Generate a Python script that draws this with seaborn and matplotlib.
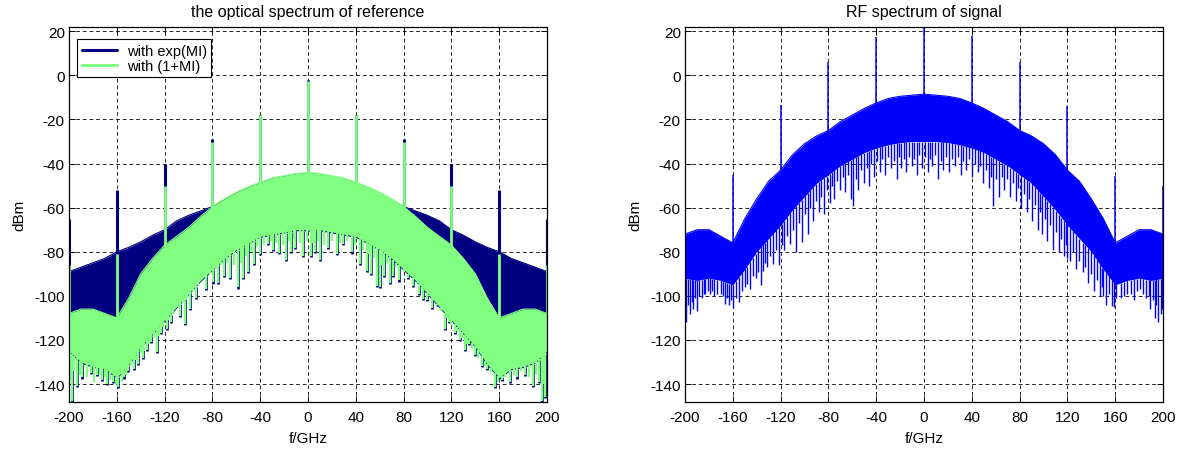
import numpy as np
import pandas as pd
import matplotlib
matplotlib.use("Agg")
import matplotlib.pyplot as plt
from matplotlib.lines import Line2D
import seaborn as sns

# ---------------- data ----------------
freq = [-200, -190, -180, -170, -160, -150, -140, -130, -120, -110, -100,
        -90, -80, -70, -60, -50, -40, -30, -20, -10, 0,
        10, 20, 30, 40, 50, 60, 70, 80, 90, 100,
        110, 120, 130, 140, 150, 160, 170, 180, 190, 200]

# optical spectrum, exp(MI) (navy): upper envelope
exp_upper = [-89, -87, -85, -83, -80, -78, -75.5, -72.5, -70, -66, -63.5,
             -61.5, -59.5, -56.5, -53.5, -51, -49, -47, -46, -45, -44.5,
             -45, -46, -47, -49, -51, -53.5, -56.5, -59.5, -61.5, -63.5,
             -66, -70, -72.5, -75.5, -78, -80, -83, -85, -87, -89]
# optical spectrum, (1+MI) (green): upper envelope and solid floor
lin_upper = [-108, -106, -106, -108, -110, -101, -90, -83, -77, -73, -69,
             -64, -59.5, -56, -53, -50.5, -48.5, -46.5, -45.5, -44.5, -44,
             -44.5, -45.5, -46.5, -48.5, -50.5, -53, -56, -59.5, -64, -69,
             -73, -77, -83, -90, -101, -110, -108, -106, -106, -108]
lin_floor = [-125, -130, -132, -133, -137, -131, -123, -117, -111, -105, -99,
             -93, -88, -83, -79, -76, -73, -72, -71, -70, -70,
             -70, -71, -72, -73, -76, -79, -83, -88, -93, -99,
             -105, -111, -117, -123, -131, -137, -133, -132, -130, -125]

# optical spectrum: deep noise dips (frequency, level)
opt_dip_f = [-197.7, -193.6, -189, -182, -176.8, -172, -168.5, -163, -158.7, -154,
             -150.4, -146, -142, -138, -135, -131, -126.6, -123, -118.2, -115,
             -111.3, -107, -103, -98.7, -94, -89, -85, -79.2, -75, -70,
             -65.3, -58.3, -54, -50, -45.2, -40.2, -33.2, -29, -24, -18.4,
             -14, -10.9, -4, 2.3, 6, 10, 17, 24, 29.5, 36.6,
             43.5, 49.1, 53, 57.5, 60.2, 64, 68.6, 71.4, 76, 84,
             88, 93, 96.5, 99.3, 103.5, 108, 114.6, 118, 123, 127,
             131.4, 135, 139.7, 145.3, 150, 156.5, 162, 169, 175, 181.6,
             188.5, 193, 195.5, 198.5]
opt_dip_v = [-147.6, -140.8, -137, -135, -136, -138, -140, -139, -141.5, -137,
             -134, -133, -131, -128, -124.6, -121, -125.6, -117, -115, -112,
             -106, -109, -112.8, -106, -101, -92.4, -97, -93.9, -94, -91,
             -91.7, -96.2, -92, -89.1, -85.6, -81.1, -76.6, -79, -80.6, -83.7,
             -80, -78.1, -82.1, -82.1, -80, -83.7, -78.1, -81.1, -76.6, -80.3,
             -85.6, -88.6, -90, -95.4, -95.8, -91, -94, -90.9, -93, -92,
             -95.6, -99, -101.5, -102, -105.6, -104, -115, -112, -117, -120,
             -124.6, -122, -127, -131.7, -133, -141.5, -138, -139, -137, -136,
             -141, -139, -147.6, -146]
# optical spectrum: shallower dips in between
opt_sdip_f = [-199, -195.5, -191, -185, -179, -174, -170, -166, -161, -156,
              -152, -148, -144, -140, -137, -133, -129, -125, -121, -117,
              -113, -109, -105, -101, -96, -92, -87, -82, -77, -73,
              -68, -62, -56, -52, -48, -43, -37, -31, -27, -21,
              -16, -12, -7, -1, 4, 8, 13, 20, 27, 33,
              39, 46, 51, 55, 62, 66, 74, 80, 86, 91,
              95, 101, 106, 111, 116, 120, 125, 129, 133, 137,
              142, 148, 153, 159, 165, 172, 178, 185, 191, 197]
opt_sdip_v = [-138, -134, -136, -137, -139, -136, -137, -138, -140, -139,
              -136, -132, -129, -126, -125, -122, -119, -118, -114, -111,
              -108, -105, -103, -101, -98, -95, -91, -90, -88, -86,
              -85, -86, -85, -82, -80, -78, -77, -75, -76, -77,
              -75, -74, -76, -75, -76, -75, -77, -75, -76, -75,
              -77, -79, -81, -83, -86, -85, -87, -89, -90, -94,
              -97, -100, -103, -107, -110, -113, -116, -119, -122, -124,
              -128, -132, -135, -139, -137, -136, -134, -137, -136, -140]

# optical spectrum: carrier / sideband lines
line_f = [-200, -160, -120, -80, -40, 0, 40, 80, 120, 160, 200]
exp_peaks = [-65, -52, -40, -29, -18, -2, -18, -29, -40, -52, -65]
lin_peaks = [-86, -81, -50, -30, -18, -2.5, -18, -30, -50, -81, -86]

# RF spectrum of signal (blue)
rf_upper = [-72, -70, -70, -73, -76, -65, -56, -48, -43, -36, -31,
            -27.5, -25, -21, -18, -15, -12.5, -10.5, -9.5, -9, -8.5,
            -9, -9.5, -10.5, -12.5, -15, -18, -21, -25, -27.5, -31,
            -36, -43, -48, -56, -65, -76, -73, -70, -70, -72]
rf_floor = [-92, -93, -92, -93, -95, -88, -80, -74, -68, -61, -55,
            -49, -45, -41, -38, -35, -33, -31.5, -30.5, -30, -30,
            -30, -30.5, -31.5, -33, -35, -38, -41, -45, -49, -55,
            -61, -68, -74, -80, -88, -95, -93, -92, -93, -92]
rf_dip_f = [-199, -196, -193, -190, -186, -183, -179, -176, -170, -166.5,
            -163, -159.8, -155, -148.4, -146, -141, -136, -134.5, -131, -126,
            -121, -117, -112, -107, -102.3, -97, -93, -88, -84, -79,
            -75, -70, -66, -61, -59, -55, -50, -46, -42, -37,
            -33, -28, -23, -19, -15, -10, -6, -2, 3, 7,
            12, 16, 21, 26, 31, 35, 40, 45, 49, 54,
            58, 63, 67, 72, 77, 81, 86, 90, 95, 99,
            103, 108, 113, 117, 120, 122, 127, 133, 137, 142,
            147, 150, 152, 157, 159, 165, 170, 176, 181, 186,
            189, 193, 196, 198]
rf_dip_v = [-112, -108, -106, -106.8, -101, -99, -99.2, -100, -99, -103.7,
            -104, -105.3, -103, -94.7, -97, -92, -95, -88.7, -87, -85.6,
            -86, -79, -76.6, -80, -75.7, -72, -66, -62, -63, -58,
            -56, -52, -53, -56, -59.2, -52, -49, -50, -46, -44,
            -45, -42, -47, -42, -44, -41, -45, -42, -44, -41,
            -47, -43, -44, -41, -45, -43, -46, -44, -49, -51,
            -59.2, -55, -52, -55, -57, -60, -62, -66, -70, -72,
            -75, -79, -80, -82, -83, -84, -88, -89, -94, -98,
            -100, -100, -104, -104.5, -105, -101, -99, -102, -97, -101,
            -106, -110, -112, -108]
rf_sdip_f = [-197.5, -194.5, -191.5, -188, -184.5, -181, -177.5, -173, -168, -165,
             -161.5, -157.5, -152, -150, -143.5, -138.5, -133, -128.5, -123.5, -119,
             -114.5, -109.5, -104.5, -99.5, -95, -90.5, -86, -81.5, -77, -72.5,
             -68, -63.5, -57, -52.5, -48, -44, -39.5, -35, -30.5, -25.5,
             -21, -17, -12.5, -8, -4, 0.5, 5, 9.5, 14, 18.5,
             23.5, 28.5, 33, 37.5, 42.5, 47, 51.5, 56, 60.5, 65,
             69.5, 74.5, 79, 83.5, 88, 92.5, 97, 101, 105.5, 110.5,
             115, 119, 124.5, 130, 135, 139.5, 144.5, 149, 154.5, 161,
             167.5, 173, 178.5, 183.5, 188, 191.5, 194.5, 199]
rf_sdip_v = [-104, -103, -101, -100, -99, -98, -98, -99, -100, -101,
             -102, -101, -98, -96, -91, -89, -85, -82, -79, -77,
             -73, -70, -67, -63, -60, -57, -55, -52, -50, -48,
             -46, -45, -47, -43, -42, -40, -39, -38, -37, -39,
             -37, -38, -37, -38, -36, -37, -38, -36, -39, -37,
             -38, -37, -39, -38, -40, -41, -43, -46, -47, -46,
             -47, -49, -51, -54, -56, -59, -62, -65, -68, -71,
             -74, -77, -80, -84, -87, -90, -93, -96, -99, -101,
             -100, -99, -98, -99, -100, -102, -104, -106]
rf_peaks = [-50, -45, -13.5, 6, 17.6, 22, 18, 6, -14, -45.5, -50]

xticks = [-200, -160, -120, -80, -40, 0, 40, 80, 120, 160, 200]
yticks = [20, 0, -20, -40, -60, -80, -100, -120, -140]

# ---------------- style ----------------
sns.set_theme(style="white")
plt.rcParams["font.family"] = ["Liberation Sans", "DejaVu Sans"]
plt.rcParams["axes.unicode_minus"] = False
plt.rcParams["text.color"] = "black"
plt.rcParams["axes.labelcolor"] = "black"
plt.rcParams["axes.titlecolor"] = "black"
plt.rcParams["xtick.color"] = "black"
plt.rcParams["ytick.color"] = "black"
plt.rcParams["xtick.labelcolor"] = "black"
plt.rcParams["ytick.labelcolor"] = "black"

NAVY = "#000080"
GREEN = "#80FF80"
BLUE = "#0000FF"
FS = 11

fig = plt.figure(figsize=(11.84, 4.52), dpi=100)
ax1 = fig.add_axes([69 / 1184, 49.3 / 452, 478 / 1184, 374.4 / 452])
ax2 = fig.add_axes([685 / 1184, 49.3 / 452, 478 / 1184, 374.4 / 452])

fr = np.array(freq, dtype=float)


def floor_at(f, arr):
    return np.interp(f, fr, np.array(arr, dtype=float))


# ---- left panel: optical spectrum ----
exp_floor = [v - 0.5 for v in lin_floor]
df_exp = pd.DataFrame({"f": freq, "dBm": exp_upper})
df_lin = pd.DataFrame({"f": freq, "dBm": lin_upper})

ax1.fill_between(freq, exp_floor, exp_upper, color=NAVY, lw=0, zorder=2)
sns.lineplot(data=df_exp, x="f", y="dBm", ax=ax1, color=NAVY, lw=0.8,
             zorder=2, legend=False)
ax1.vlines(opt_dip_f, floor_at(opt_dip_f, exp_floor),
           [v - 0.5 for v in opt_dip_v], color=NAVY, lw=1.9, zorder=2)
ax1.vlines(line_f, floor_at(line_f, exp_floor), exp_peaks,
           color=NAVY, lw=2.2, zorder=2)

ax1.fill_between(freq, lin_floor, lin_upper, color=GREEN, lw=0, zorder=3)
sns.lineplot(data=df_lin, x="f", y="dBm", ax=ax1, color=GREEN, lw=0.8,
             zorder=3, legend=False)
ax1.vlines(opt_dip_f, floor_at(opt_dip_f, lin_floor), opt_dip_v,
           color=GREEN, lw=1.6, zorder=3)
ax1.vlines(opt_sdip_f, floor_at(opt_sdip_f, lin_floor), opt_sdip_v,
           color=GREEN, lw=1.6, zorder=3)
ax1.vlines(line_f, floor_at(line_f, lin_floor), lin_peaks,
           color=GREEN, lw=2.0, zorder=3)

handles = [Line2D([], [], color=NAVY, lw=2.2), Line2D([], [], color=GREEN, lw=2.2)]
leg = ax1.legend(handles, ["with exp(MI)", "with (1+MI)"], loc="upper left",
                 bbox_to_anchor=(0.017, 0.968), fontsize=10.5, frameon=True,
                 fancybox=False, framealpha=1, edgecolor="black",
                 handlelength=2.4, handletextpad=0.7, borderpad=0.3,
                 labelspacing=0.1, borderaxespad=0)
leg.get_frame().set_linewidth(0.8)
leg.set_zorder(10)
for t in leg.get_texts():
    t.set_color("black")

# ---- right panel: RF spectrum ----
df_rf = pd.DataFrame({"f": freq, "dBm": rf_upper})
ax2.fill_between(freq, rf_floor, rf_upper, color=BLUE, lw=0, zorder=2)
sns.lineplot(data=df_rf, x="f", y="dBm", ax=ax2, color=BLUE, lw=0.8,
             zorder=2, legend=False)
ax2.vlines(rf_dip_f, floor_at(rf_dip_f, rf_floor), rf_dip_v,
           color=BLUE, lw=1.0, zorder=2)
ax2.vlines(rf_sdip_f, floor_at(rf_sdip_f, rf_floor), rf_sdip_v,
           color=BLUE, lw=1.0, zorder=2)
ax2.vlines(line_f, floor_at(line_f, rf_floor), rf_peaks,
           color=BLUE, lw=1.1, zorder=2)

# ---- common axes styling ----
for ax, title in ((ax1, "the optical spectrum of reference"),
                  (ax2, "RF spectrum of signal")):
    ax.set_xlim(-200, 200)
    ax.set_ylim(-148, 21.8)
    ax.set_xticks(xticks)
    ax.set_yticks(yticks)
    ax.set_xticklabels([str(t) for t in xticks])
    ax.set_yticklabels([str(t) for t in yticks])
    ax.set_axisbelow(True)
    ax.grid(True, color="black", lw=0.6, ls=(0, (4.5, 3.5)))
    ax.tick_params(axis="both", direction="in", length=4, width=0.7,
                   labelsize=FS, top=True, right=True, bottom=True,
                   left=True, colors="black", labelcolor="black")
    ax.tick_params(axis="x", pad=6)
    ax.tick_params(axis="y", pad=3)
    for s in ax.spines.values():
        s.set_visible(True)
        s.set_color("black")
        s.set_linewidth(0.9)
        s.set_zorder(5)
    ax.set_title(title, fontsize=FS + 0.5, pad=8, color="black")
    ax.set_xlabel("f/GHz", fontsize=FS, labelpad=5, color="black")
    ax.set_ylabel("dBm", fontsize=FS, labelpad=6, color="black")
    ax.set_facecolor("white")

fig.savefig("out.png", dpi=100, facecolor="white")
